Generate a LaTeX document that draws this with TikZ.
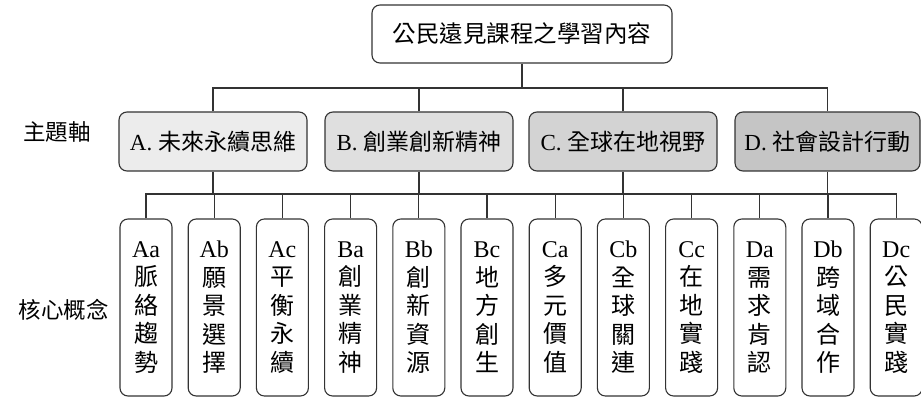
\documentclass[tikz,border=0pt]{standalone}
\usepackage{fontspec}
\setmainfont{Liberation Serif}
\newfontfamily\cjk{Noto Sans CJK TC}
\definecolor{edge}{HTML}{333333}
\definecolor{fillA}{HTML}{ECECEC}
\definecolor{fillB}{HTML}{DFDFDF}
\definecolor{fillC}{HTML}{D3D3D3}
\definecolor{fillD}{HTML}{C5C5C5}
\begin{document}
\begin{tikzpicture}[x=1pt,y=-1pt,
  box/.style={draw=edge,line width=1.1pt,rounded corners=8pt,inner sep=0pt,align=center},
  rootbox/.style={box,fill=white,minimum width=300pt,minimum height=58pt,font=\fontsize{23.5}{26}\selectfont},
  themebox/.style={box,minimum width=188pt,minimum height=59pt,font=\fontsize{23}{26}\selectfont},
  conceptbox/.style={box,fill=white,minimum width=52pt,minimum height=177pt,font=\fontsize{24}{28.5}\selectfont},
  sidelabel/.style={inner sep=0pt,font=\fontsize{22.5}{26}\selectfont\cjk},
  conn/.style={draw=edge,line width=1.1pt}]
\useasboundingbox (0,0) rectangle (921,398);

\coordinate (busone) at (0,88);
\coordinate (bustwo) at (0,194);

\node[rootbox] (root) at (522,34) {\cjk 公民遠見課程之學習內容};

\node[themebox,fill=fillA] (A) at (213,141.5) {A. {\cjk 未來永續思維}};
\node[themebox,fill=fillB] (B) at (419,141.5) {B. {\cjk 創業創新精神}};
\node[themebox,fill=fillC] (C) at (623,141.5) {C. {\cjk 全球在地視野}};
\node[themebox,fill=fillD,minimum width=185pt] (D) at (827.5,141.5) {D. {\cjk 社會設計行動}};

\node[sidelabel] (lblA) at (57,132) {主題軸};
\node[sidelabel] (lblB) at (64,310) {核心概念};

\foreach \n/\i/\code/\a/\b/\c/\d in {
  Aa/0/Aa/脈/絡/趨/勢, Ab/1/Ab/願/景/選/擇, Ac/2/Ac/平/衡/永/續,
  Ba/3/Ba/創/業/精/神, Bb/4/Bb/創/新/資/源, Bc/5/Bc/地/方/創/生,
  Ca/6/Ca/多/元/價/值, Cb/7/Cb/全/球/關/連, Cc/8/Cc/在/地/實/踐,
  Da/9/Da/需/求/肯/認, Db/10/Db/跨/域/合/作, Dc/11/Dc/公/民/實/踐}{
  \node[conceptbox] (\n) at ({146+68.2*\i},307.5) {\code\\{\cjk \a}\\{\cjk \b}\\{\cjk \c}\\{\cjk \d}};
}

% upper tree
\draw[conn] (root.south) -- (root.south |- busone);
\draw[conn] (A.north) -- (A.north |- busone) -- (D.north |- busone) -- (D.north);
\draw[conn] (B.north) -- (B.north |- busone);
\draw[conn] (C.north) -- (C.north |- busone);

% lower tree
\draw[conn] (Aa.north) -- (Aa.north |- bustwo) -- (Dc.north |- bustwo) -- (Dc.north);
\foreach \n in {Ab,Ac,Ba,Bb,Bc,Ca,Cb,Cc,Da,Db}{
  \draw[conn] (\n.north) -- (\n.north |- bustwo);
}
\foreach \n in {A,B,C,D}{
  \draw[conn] (\n.south) -- (\n.south |- bustwo);
}
\end{tikzpicture}
\end{document}
